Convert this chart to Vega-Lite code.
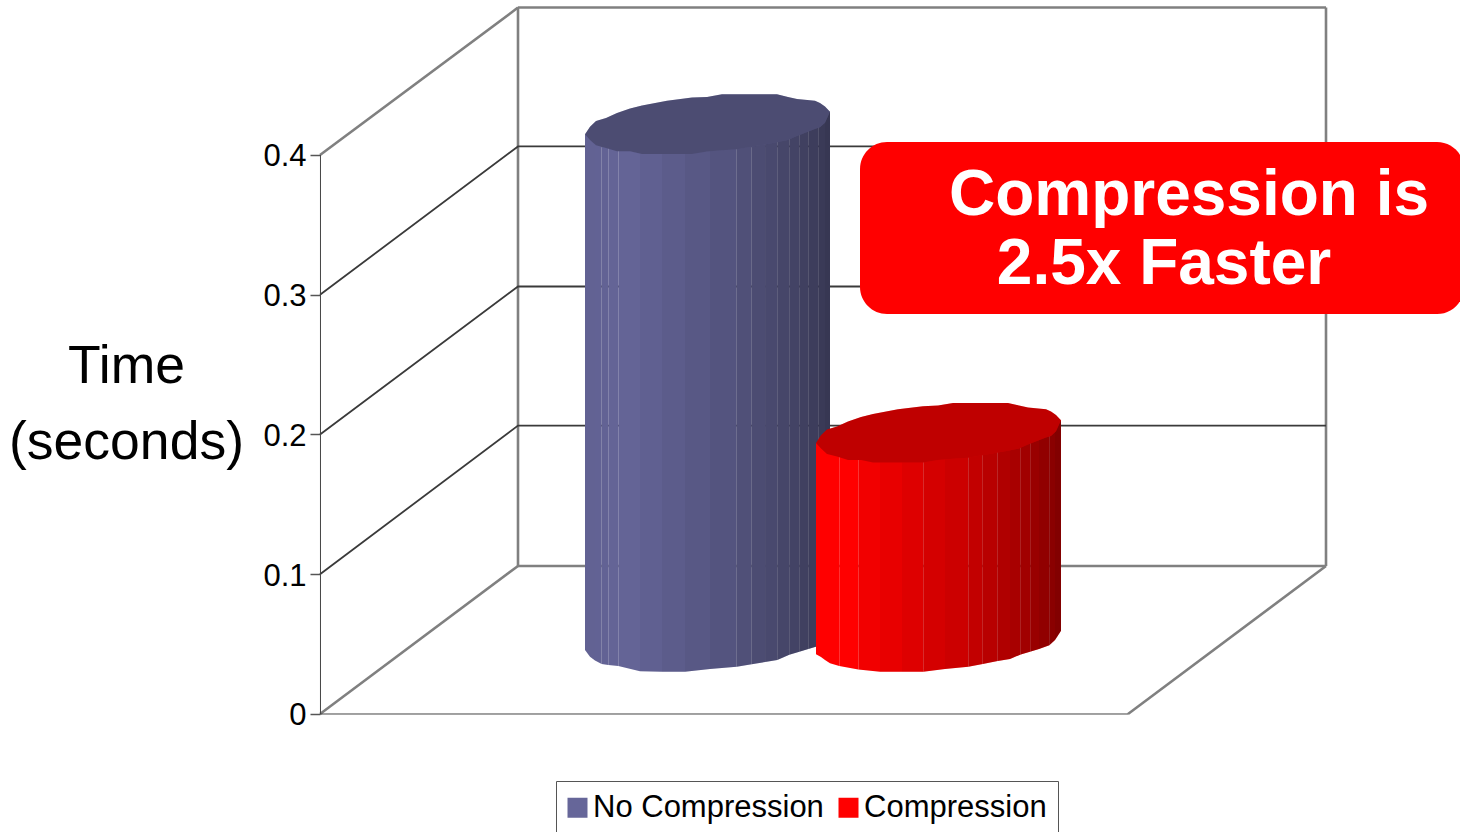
{
"$schema":"https://vega.github.io/schema/vega-lite/v6.json",
"width":1460,"height":832,"autosize":{"type":"none"},"padding":0,"background":"white",
"config":{"view":{"stroke":null},"font":"Liberation Sans"},
"datasets":{
"frame":[
{"seg":"s1","kind":"frame","x":0,"y":0.4},{"seg":"s1","kind":"frame","x":24.75,"y":0.5055},
{"seg":"s2","kind":"frame","x":24.75,"y":0.5055},{"seg":"s2","kind":"frame","x":125.75,"y":0.5055},
{"seg":"s3","kind":"frame","x":24.75,"y":0.5055},{"seg":"s3","kind":"frame","x":24.75,"y":0.1059},
{"seg":"s4","kind":"frame","x":125.75,"y":0.5055},{"seg":"s4","kind":"frame","x":125.75,"y":0.1059},
{"seg":"s5","kind":"frame","x":24.75,"y":0.1059},{"seg":"s5","kind":"frame","x":125.75,"y":0.1059},
{"seg":"s6","kind":"frame","x":0,"y":0},{"seg":"s6","kind":"frame","x":24.75,"y":0.1059},
{"seg":"s7","kind":"frame","x":101,"y":0},{"seg":"s7","kind":"frame","x":125.75,"y":0.1059},
{"seg":"g1","kind":"grid","x":0,"y":0.1},{"seg":"g1","kind":"grid","x":24.75,"y":0.2064},{"seg":"g1","kind":"grid","x":125.75,"y":0.2064},
{"seg":"g2","kind":"grid","x":0,"y":0.2},{"seg":"g2","kind":"grid","x":24.75,"y":0.3059},{"seg":"g2","kind":"grid","x":125.75,"y":0.3059},
{"seg":"g3","kind":"grid","x":0,"y":0.3},{"seg":"g3","kind":"grid","x":24.75,"y":0.4061},{"seg":"g3","kind":"grid","x":125.75,"y":0.4061},
{"seg":"a1","kind":"axis","x":0.06,"y":0},{"seg":"a1","kind":"axis","x":0.06,"y":0.4},
{"seg":"a2","kind":"axis","x":0,"y":0},{"seg":"a2","kind":"axis","x":101,"y":0}
],
"body":[
{"series":"No Compression","strip":"n01","x":33.125,"top":0.4148,"bottom":0.0458,"shade":0.04},{"series":"No Compression","strip":"n01","x":33.75,"top":0.4152,"bottom":0.0410,"shade":0.04},
{"series":"No Compression","strip":"n02","x":33.75,"top":0.4152,"bottom":0.0410,"shade":0.04},{"series":"No Compression","strip":"n02","x":34.375,"top":0.4155,"bottom":0.0383,"shade":0.04},
{"series":"No Compression","strip":"n03","x":34.375,"top":0.4155,"bottom":0.0383,"shade":0.03},{"series":"No Compression","strip":"n03","x":35.21,"top":0.4159,"bottom":0.0358,"shade":0.03},
{"series":"No Compression","strip":"n04","x":35.21,"top":0.4159,"bottom":0.0358,"shade":0.03},{"series":"No Compression","strip":"n04","x":36.04,"top":0.4163,"bottom":0.0351,"shade":0.03},
{"series":"No Compression","strip":"n05","x":36.04,"top":0.4163,"bottom":0.0351,"shade":0.02},{"series":"No Compression","strip":"n05","x":37.29,"top":0.4170,"bottom":0.0343,"shade":0.02},
{"series":"No Compression","strip":"n06","x":37.29,"top":0.4170,"bottom":0.0343,"shade":0.02},{"series":"No Compression","strip":"n06","x":40,"top":0.4185,"bottom":0.0306,"shade":0.02},
{"series":"No Compression","strip":"n07","x":40,"top":0.4185,"bottom":0.0306,"shade":0.05},{"series":"No Compression","strip":"n07","x":42.75,"top":0.4199,"bottom":0.0303,"shade":0.05},
{"series":"No Compression","strip":"n08","x":42.75,"top":0.4199,"bottom":0.0303,"shade":0.09},{"series":"No Compression","strip":"n08","x":45.625,"top":0.4215,"bottom":0.0303,"shade":0.09},
{"series":"No Compression","strip":"n09","x":45.625,"top":0.4215,"bottom":0.0303,"shade":0.13},{"series":"No Compression","strip":"n09","x":48.75,"top":0.4231,"bottom":0.0322,"shade":0.13},
{"series":"No Compression","strip":"n10","x":48.75,"top":0.4231,"bottom":0.0322,"shade":0.17},{"series":"No Compression","strip":"n10","x":52.09,"top":0.4249,"bottom":0.0338,"shade":0.17},
{"series":"No Compression","strip":"n11","x":52.09,"top":0.4249,"bottom":0.0338,"shade":0.21},{"series":"No Compression","strip":"n11","x":53.96,"top":0.4259,"bottom":0.0356,"shade":0.21},
{"series":"No Compression","strip":"n12","x":53.96,"top":0.4259,"bottom":0.0356,"shade":0.25},{"series":"No Compression","strip":"n12","x":55.63,"top":0.4268,"bottom":0.0372,"shade":0.25},
{"series":"No Compression","strip":"n13","x":55.63,"top":0.4268,"bottom":0.0372,"shade":0.28},{"series":"No Compression","strip":"n13","x":57.16,"top":0.4276,"bottom":0.0386,"shade":0.28},
{"series":"No Compression","strip":"n14","x":57.16,"top":0.4276,"bottom":0.0386,"shade":0.31},{"series":"No Compression","strip":"n14","x":58.66,"top":0.4284,"bottom":0.0424,"shade":0.31},
{"series":"No Compression","strip":"n15","x":58.66,"top":0.4284,"bottom":0.0424,"shade":0.34},{"series":"No Compression","strip":"n15","x":59.91,"top":0.4291,"bottom":0.0445,"shade":0.34},
{"series":"No Compression","strip":"n16","x":59.91,"top":0.4291,"bottom":0.0445,"shade":0.37},{"series":"No Compression","strip":"n16","x":61.04,"top":0.4297,"bottom":0.0465,"shade":0.37},
{"series":"No Compression","strip":"n17","x":61.04,"top":0.4297,"bottom":0.0465,"shade":0.40},{"series":"No Compression","strip":"n17","x":62.29,"top":0.4304,"bottom":0.0487,"shade":0.40},
{"series":"No Compression","strip":"n18","x":62.29,"top":0.4304,"bottom":0.0487,"shade":0.43},{"series":"No Compression","strip":"n18","x":63.125,"top":0.4308,"bottom":0.0530,"shade":0.43},
{"series":"No Compression","strip":"n19","x":63.125,"top":0.4308,"bottom":0.0530,"shade":0.46},{"series":"No Compression","strip":"n19","x":63.75,"top":0.4310,"bottom":0.0580,"shade":0.46},
{"series":"Compression","strip":"c01","x":62,"top":0.1940,"bottom":0.0427,"shade":0},{"series":"Compression","strip":"c01","x":62.625,"top":0.1933,"bottom":0.0408,"shade":0},
{"series":"Compression","strip":"c02","x":62.625,"top":0.1933,"bottom":0.0408,"shade":0},{"series":"Compression","strip":"c02","x":63.125,"top":0.1936,"bottom":0.0386,"shade":0},
{"series":"Compression","strip":"c03","x":63.125,"top":0.1936,"bottom":0.0386,"shade":0},{"series":"Compression","strip":"c03","x":63.75,"top":0.1939,"bottom":0.0363,"shade":0},
{"series":"Compression","strip":"c04","x":63.75,"top":0.1939,"bottom":0.0363,"shade":0},{"series":"Compression","strip":"c04","x":64.91,"top":0.1945,"bottom":0.0343,"shade":0},
{"series":"Compression","strip":"c05","x":64.91,"top":0.1945,"bottom":0.0343,"shade":0},{"series":"Compression","strip":"c05","x":67.29,"top":0.1958,"bottom":0.0318,"shade":0},
{"series":"Compression","strip":"c06","x":67.29,"top":0.1958,"bottom":0.0318,"shade":0.05},{"series":"Compression","strip":"c06","x":70,"top":0.1973,"bottom":0.0303,"shade":0.05},
{"series":"Compression","strip":"c07","x":70,"top":0.1973,"bottom":0.0303,"shade":0.09},{"series":"Compression","strip":"c07","x":72.75,"top":0.1987,"bottom":0.0303,"shade":0.09},
{"series":"Compression","strip":"c08","x":72.75,"top":0.1987,"bottom":0.0303,"shade":0.13},{"series":"Compression","strip":"c08","x":75.41,"top":0.2001,"bottom":0.0303,"shade":0.13},
{"series":"Compression","strip":"c09","x":75.41,"top":0.2001,"bottom":0.0303,"shade":0.17},{"series":"Compression","strip":"c09","x":78.125,"top":0.2016,"bottom":0.0322,"shade":0.17},
{"series":"Compression","strip":"c10","x":78.125,"top":0.2016,"bottom":0.0322,"shade":0.20},{"series":"Compression","strip":"c10","x":81.04,"top":0.2031,"bottom":0.0338,"shade":0.20},
{"series":"Compression","strip":"c11","x":81.04,"top":0.2031,"bottom":0.0338,"shade":0.24},{"series":"Compression","strip":"c11","x":82.84,"top":0.2041,"bottom":0.0358,"shade":0.24},
{"series":"Compression","strip":"c12","x":82.84,"top":0.2041,"bottom":0.0358,"shade":0.28},{"series":"Compression","strip":"c12","x":84.71,"top":0.2051,"bottom":0.0379,"shade":0.28},
{"series":"Compression","strip":"c13","x":84.71,"top":0.2051,"bottom":0.0379,"shade":0.31},{"series":"Compression","strip":"c13","x":86.25,"top":0.2059,"bottom":0.0394,"shade":0.31},
{"series":"Compression","strip":"c14","x":86.25,"top":0.2059,"bottom":0.0394,"shade":0.34},{"series":"Compression","strip":"c14","x":87.59,"top":0.2066,"bottom":0.0426,"shade":0.34},
{"series":"Compression","strip":"c15","x":87.59,"top":0.2066,"bottom":0.0426,"shade":0.37},{"series":"Compression","strip":"c15","x":88.84,"top":0.2073,"bottom":0.0447,"shade":0.37},
{"series":"Compression","strip":"c16","x":88.84,"top":0.2073,"bottom":0.0447,"shade":0.40},{"series":"Compression","strip":"c16","x":89.875,"top":0.2078,"bottom":0.0465,"shade":0.40},
{"series":"Compression","strip":"c17","x":89.875,"top":0.2078,"bottom":0.0465,"shade":0.43},{"series":"Compression","strip":"c17","x":91.16,"top":0.2085,"bottom":0.0492,"shade":0.43},
{"series":"Compression","strip":"c18","x":91.16,"top":0.2085,"bottom":0.0492,"shade":0.46},{"series":"Compression","strip":"c18","x":91.875,"top":0.2089,"bottom":0.0530,"shade":0.46},
{"series":"Compression","strip":"c19","x":91.875,"top":0.2089,"bottom":0.0530,"shade":0.49},{"series":"Compression","strip":"c19","x":92.625,"top":0.2102,"bottom":0.0596,"shade":0.49}
],
"lids":[
{"series":"No Compression","x":33.125,"upper":0.4148,"lower":0.4148},{"series":"No Compression","x":33.75,"upper":0.4203,"lower":0.4107},{"series":"No Compression","x":34.5,"upper":0.4243,"lower":0.4069},{"series":"No Compression","x":35.75,"upper":0.4265,"lower":0.4050},{"series":"No Compression","x":37.125,"upper":0.4301,"lower":0.4026},{"series":"No Compression","x":38.75,"upper":0.4333,"lower":0.4026},{"series":"No Compression","x":40.25,"upper":0.4354,"lower":0.4007},{"series":"No Compression","x":43.375,"upper":0.4389,"lower":0.4007},{"series":"No Compression","x":46.5,"upper":0.4411,"lower":0.4007},{"series":"No Compression","x":48.375,"upper":0.4415,"lower":0.4025},{"series":"No Compression","x":50.25,"upper":0.4434,"lower":0.4034},{"series":"No Compression","x":52.125,"upper":0.4434,"lower":0.4041},{"series":"No Compression","x":57.125,"upper":0.4434,"lower":0.4091},{"series":"No Compression","x":58.5,"upper":0.4415,"lower":0.4107},{"series":"No Compression","x":59.625,"upper":0.4401,"lower":0.4136},{"series":"No Compression","x":61.875,"upper":0.4389,"lower":0.4186},{"series":"No Compression","x":62.5,"upper":0.4372,"lower":0.4198},{"series":"No Compression","x":63.125,"upper":0.4347,"lower":0.4231},{"series":"No Compression","x":63.75,"upper":0.4310,"lower":0.4310},
{"series":"Compression","x":62,"upper":0.1940,"lower":0.1940},{"series":"Compression","x":62.625,"upper":0.1995,"lower":0.1899},{"series":"Compression","x":63.375,"upper":0.2035,"lower":0.1861},{"series":"Compression","x":64.625,"upper":0.2057,"lower":0.1842},{"series":"Compression","x":66,"upper":0.2093,"lower":0.1818},{"series":"Compression","x":67.625,"upper":0.2125,"lower":0.1818},{"series":"Compression","x":69.125,"upper":0.2146,"lower":0.1799},{"series":"Compression","x":72.25,"upper":0.2181,"lower":0.1799},{"series":"Compression","x":75.375,"upper":0.2203,"lower":0.1799},{"series":"Compression","x":77.25,"upper":0.2207,"lower":0.1817},{"series":"Compression","x":79.125,"upper":0.2226,"lower":0.1826},{"series":"Compression","x":81,"upper":0.2226,"lower":0.1833},{"series":"Compression","x":86,"upper":0.2226,"lower":0.1883},{"series":"Compression","x":87.375,"upper":0.2207,"lower":0.1899},{"series":"Compression","x":88.5,"upper":0.2193,"lower":0.1928},{"series":"Compression","x":90.75,"upper":0.2181,"lower":0.1978},{"series":"Compression","x":91.375,"upper":0.2164,"lower":0.1990},{"series":"Compression","x":92,"upper":0.2139,"lower":0.2023},{"series":"Compression","x":92.625,"upper":0.2102,"lower":0.2102}
]
},
"data":{"name":"frame"},
"encoding":{
"x":{"field":"x","type":"quantitative","axis":null,"scale":{"domain":[-40,142.5],"nice":false,"zero":false}},
"y":{"field":"y","type":"quantitative","stack":null,"scale":{"domain":[-0.08444,0.51091],"nice":false,"zero":false},
"axis":{"values":[0,0.1,0.2,0.3,0.4],"offset":-320,"domain":false,"grid":false,"format":"~f","tickSize":10,"tickWidth":1.5,"tickColor":"#555555","labelFont":"Liberation Sans","labelFontSize":31,"labelColor":"black","labelPadding":4,"labelOffset":2,
"title":["Time","(seconds)"],"titleFont":"Liberation Sans","titleFontSize":53.5,"titleFontWeight":"normal","titleColor":"black","titleAngle":0,"titleAlign":"center","titleBaseline":"alphabetic","titleLineHeight":76,"titleX":-194,"titleY":382}}
},
"layer":[
{"mark":{"type":"line"},"encoding":{"detail":{"field":"seg"},
"stroke":{"field":"kind","type":"nominal","legend":null,"scale":{"domain":["frame","grid","axis"],"range":["#808080","#3a3a3a","#444444"]}},
"strokeWidth":{"field":"kind","type":"nominal","legend":null,"scale":{"domain":["frame","grid","axis"],"range":[2.6,1,1.6]}}}},
{"data":{"name":"body"},"transform":[{"filter":"datum.series === 'No Compression'"}],"mark":{"type":"area"},"encoding":{"y":{"field":"top","type":"quantitative","stack":null},"y2":{"field":"bottom"},"detail":{"field":"strip"},
"fill":{"field":"series","type":"nominal","scale":{"domain":["No Compression","Compression"],"range":["#666699","#ff0000"]},
"legend":{"title":null,"orient":"none","legendX":556,"legendY":781,"direction":"horizontal","symbolType":"square","symbolSize":400,"symbolStrokeWidth":0,"symbolOffset":-5,"labelFont":"Liberation Sans","labelFontSize":31,"labelLimit":400,"labelColor":"black","labelOffset":0,"columnPadding":14,"padding":11,"strokeColor":"#555555","fillColor":"white","symbolOpacity":1}}}},
{"data":{"name":"body"},"transform":[{"filter":"datum.series === 'No Compression'"}],"mark":{"type":"area","fill":"black"},"encoding":{"y":{"field":"top","type":"quantitative","stack":null},"y2":{"field":"bottom"},"detail":{"field":"strip"},
"opacity":{"field":"shade","type":"quantitative","legend":null,"scale":{"domain":[0,1],"range":[0,1]}}}},
{"data":{"name":"body"},"transform":[{"filter":"datum.series === 'Compression'"}],"mark":{"type":"area"},"encoding":{"y":{"field":"top","type":"quantitative","stack":null},"y2":{"field":"bottom"},"detail":{"field":"strip"},
"fill":{"field":"series","type":"nominal"}}},
{"data":{"name":"body"},"transform":[{"filter":"datum.series === 'Compression'"}],"mark":{"type":"area","fill":"black"},"encoding":{"y":{"field":"top","type":"quantitative","stack":null},"y2":{"field":"bottom"},"detail":{"field":"strip"},
"opacity":{"field":"shade","type":"quantitative","legend":null,"scale":{"domain":[0,1],"range":[0,1]}}}},
{"data":{"name":"lids"},"mark":{"type":"area"},"encoding":{"y":{"field":"upper","type":"quantitative","stack":null},"y2":{"field":"lower"},"fill":{"field":"series","type":"nominal"}}},
{"data":{"name":"lids"},"mark":{"type":"area","fill":"black","opacity":0.25},"encoding":{"y":{"field":"upper","type":"quantitative","stack":null},"y2":{"field":"lower"},"detail":{"field":"series"}}},
{"data":{"values":[{"x":67.5,"x2":143,"y":0.4093,"y2":0.2862}]},"mark":{"type":"rect","fill":"#ff0000","cornerRadius":27},"encoding":{"x":{"field":"x","type":"quantitative"},"x2":{"field":"x2"},"y":{"field":"y","type":"quantitative"},"y2":{"field":"y2"}}},
{"data":{"values":[{"x":108.625,"y":0.3571,"label":"Compression is"},{"x":105.5,"y":0.3077,"label":"2.5x Faster"}]},"mark":{"type":"text","font":"Liberation Sans","fontSize":64,"fontWeight":"bold","fill":"white","align":"center","baseline":"alphabetic"},"encoding":{"text":{"field":"label"}}}
]
}
